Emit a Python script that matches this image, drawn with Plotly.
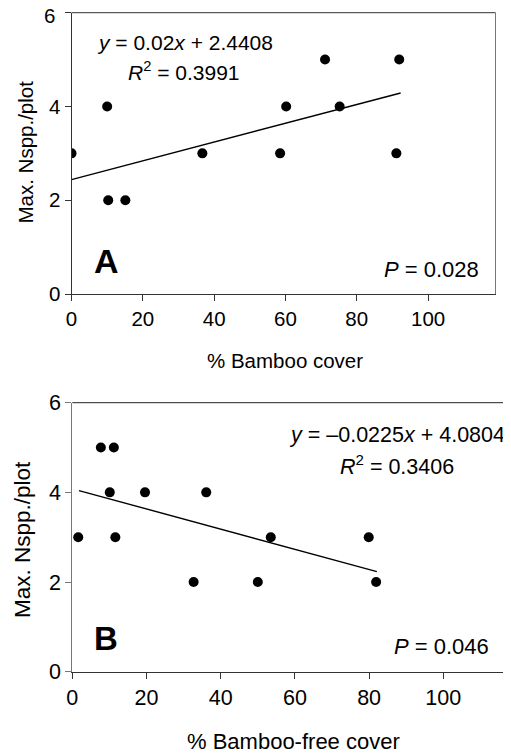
import plotly.graph_objects as go

# Panel A data
a_x = [0, 10.0, 10.3, 15.1, 36.7, 58.5, 60.2, 71.1, 75.2, 91.1, 91.9]
a_y = [3, 4, 2, 2, 3, 3, 4, 5, 4, 3, 5]
a_slope, a_icpt = 0.02, 2.4408
a_fit_x = [0, 92.3]

# Panel B data
b_x = [1.6, 7.7, 11.2, 10.1, 11.6, 19.6, 32.7, 36.1, 50.0, 53.5, 79.9, 81.9]
b_y = [3, 5, 5, 4, 3, 4, 2, 4, 2, 3, 3, 2]
b_slope, b_icpt = -0.0225, 4.0804
b_fit_x = [1.8, 82.1]

x_ticks = [0, 20, 40, 60, 80, 100]
y_ticks = [0, 2, 4, 6]
y_ticktext = ["0", "2", "4", "6"]

# page body has an 8px default margin; size the figure to the remaining viewport
OFF = 8
W, H = 511 - OFF, 755 - OFF
FONT = "Liberation Sans, Arial, sans-serif"

fig = go.Figure()
mk = dict(color="black", size=10)
fig.add_trace(go.Scatter(x=a_x, y=a_y, mode="markers", marker=mk, xaxis="x", yaxis="y", showlegend=False))
fig.add_trace(go.Scatter(x=a_fit_x, y=[a_slope * v + a_icpt for v in a_fit_x], mode="lines",
                         line=dict(color="black", width=1.4), xaxis="x", yaxis="y", showlegend=False))
fig.add_trace(go.Scatter(x=b_x, y=b_y, mode="markers", marker=mk, xaxis="x2", yaxis="y2", showlegend=False))
fig.add_trace(go.Scatter(x=b_fit_x, y=[b_slope * v + b_icpt for v in b_fit_x], mode="lines",
                         line=dict(color="black", width=1.4), xaxis="x2", yaxis="y2", showlegend=False))

def px_x(p):
    return (p - OFF) / W

def px_y(p):
    return 1 - (p - OFF) / H

def xax(dom, rng, fs, anchor):
    return dict(domain=dom, range=rng, tickvals=x_ticks, ticks="outside", ticklen=6,
                tickcolor="#333", showline=True, linecolor="#333", linewidth=1,
                showgrid=False, zeroline=False, anchor=anchor, automargin=False,
                ticklabeloverflow="allow",
                tickfont=dict(family=FONT, size=fs, color="black"))

def yax(dom, fs, anchor, lc, texts):
    return dict(domain=dom, range=[0, 6], tickvals=y_ticks, ticktext=texts, ticks="outside", ticklen=6,
                tickcolor=lc, showline=True, linecolor=lc, linewidth=1,
                showgrid=False, zeroline=False, anchor=anchor, automargin=False,
                ticklabeloverflow="allow",
                tickfont=dict(family=FONT, size=fs, color="black"))

# top "6" of panel A sits at the page edge; it is drawn as an annotation just inside
top_texts = y_ticktext[:-1] + [""]

fig.update_layout(
    width=W, height=H, margin=dict(l=0, r=0, t=0, b=0, autoexpand=False),
    paper_bgcolor="white", plot_bgcolor="white",
    xaxis=xax([px_x(71.5), px_x(495.5)], [0, 118.9], 20.5, "y"),
    yaxis=yax([px_y(294), px_y(12.7)], 20.5, "x", "#333", top_texts),
    xaxis2=xax([px_x(72.3), 1.0], [0, 118.25], 21.5, "y2"),
    yaxis2=yax([px_y(671.7), px_y(402.7)], 21.5, "x2", "#777", y_ticktext),
)

# borders (top and right of A, top of B)
fig.add_shape(type="line", xref="x domain", yref="y domain", x0=0, x1=1, y0=1, y1=1,
              line=dict(color="#333", width=1))
fig.add_shape(type="line", xref="x domain", yref="y domain", x0=1, x1=1, y0=0, y1=1,
              line=dict(color="#777", width=1))
fig.add_shape(type="line", xref="x2 domain", yref="y2 domain", x0=0, x1=1, y0=1, y1=1,
              line=dict(color="#222", width=1))

def ann(text, x, y, size, bold=False, angle=0, xanchor="center"):
    fig.add_annotation(text=text, xref="paper", yref="paper", x=px_x(x), y=px_y(y),
                       xanchor=xanchor, yanchor="middle", showarrow=False, textangle=angle,
                       font=dict(family=FONT, size=size, color="black",
                                 weight="bold" if bold else "normal"))

ann(y_ticktext[-1], 57, 15.5, 20.5, xanchor="right")
ann("<i>y</i> = 0.02<i>x</i> + 2.4408", 184.5, 42, 21)
ann("<i>R</i><sup>2</sup> = 0.3991", 184, 71, 21)
ann("<i>P</i> = 0.028", 431, 269, 22)
ann("A", 106, 261, 34, bold=True)
ann("Max. Nspp./plot", 25, 152.5, 20.5, angle=-90)
ann("% Bamboo cover", 284.5, 360, 20.5)

ann("<i>y</i> = –0.0225<i>x</i> + 4.0804", 396.5, 435, 21.5)
ann("<i>R</i><sup>2</sup> = 0.3406", 396.5, 465, 21.5)
ann("<i>P</i> = 0.046", 441, 646, 22)
ann("B", 106, 638.5, 33, bold=True)
ann("Max. Nspp./plot", 22, 540, 22.5, angle=-90)
ann("% Bamboo-free cover", 293.5, 741, 22)

fig.write_html("out.html")
